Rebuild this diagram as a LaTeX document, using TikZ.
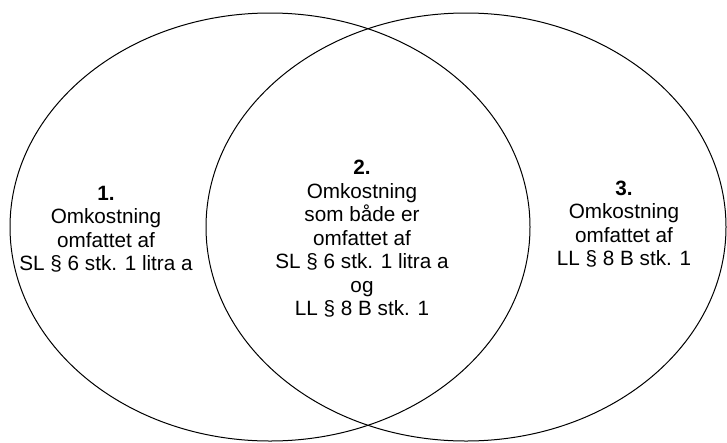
\documentclass[tikz,border=0pt]{standalone}
\usepackage{fontspec}
\setmainfont{Liberation Sans}
\begin{document}
\begin{tikzpicture}[x=1pt,y=-1pt,
  setshape/.style={draw=black,line width=1pt,ellipse},
  lbl/.style={align=center,inner sep=0pt,font=\fontsize{20.7}{23.5}\selectfont}]
\useasboundingbox (0,0) rectangle (727,442);
\draw[line width=1pt] (270,227) ellipse [x radius=260, y radius=214];
\draw[line width=1pt] (466,227) ellipse [x radius=260, y radius=214];
\node[lbl] (one) at (106,229) {\textbf{1.}\\Omkostning\\omfattet af\\SL § 6 stk. 1 litra a};
\node[lbl] (two) at (362,239) {\textbf{2.}\\Omkostning\\som både er\\omfattet af\\SL § 6 stk. 1 litra a\\og\\LL § 8 B stk. 1};
\node[lbl] (three) at (624,224) {\textbf{3.}\\Omkostning\\omfattet af\\LL § 8 B stk. 1};
\end{tikzpicture}
\end{document}
